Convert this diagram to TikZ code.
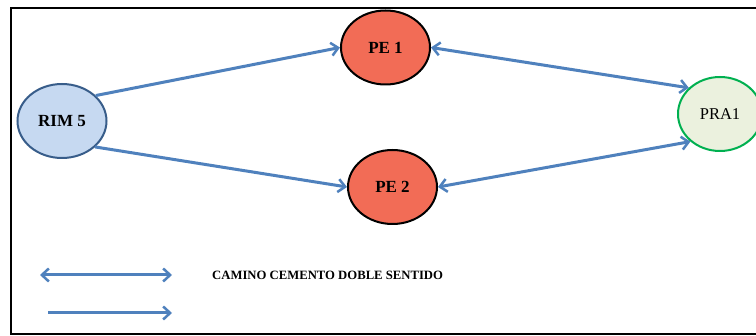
\documentclass[tikz,border=0pt]{standalone}
\usepackage{fontspec}
\setmainfont{Liberation Serif}
\usetikzlibrary{shapes.geometric,arrows.meta}
\definecolor{arrowblue}{RGB}{79,129,189}
\definecolor{rimfill}{RGB}{198,217,241}
\definecolor{rimdraw}{RGB}{56,93,138}
\definecolor{pefill}{RGB}{242,108,86}
\definecolor{prafill}{RGB}{235,241,222}
\definecolor{pradraw}{RGB}{0,176,80}
\tikzset{
  site/.style={ellipse, minimum width=89pt, minimum height=74pt, line width=2pt, inner sep=0pt, font=\bfseries\fontsize{17}{19}\selectfont},
  road/.style={draw=arrowblue, line width=3pt, -{Straight Barb[length=7pt,width=13pt,line width=2.5pt]}},
  road2/.style={draw=arrowblue, line width=3pt, {Straight Barb[length=7pt,width=13pt,line width=2.5pt]}-{Straight Barb[length=7pt,width=13pt,line width=2.5pt]}},
}
\begin{document}
\begin{tikzpicture}[x=1pt,y=-1pt]
\useasboundingbox (0,0) rectangle (756,336);
\fill[white] (0,0) rectangle (756,336);
\draw[line width=2pt] (756,8.5) -- (10.5,8.5) -- (10.5,334) -- (756,334);
\node[site, fill=rimfill, draw=rimdraw] (rim) at (62,121) {RIM 5};
\node[site, fill=pefill, draw=black] (pe1) at (385.5,47.5) {PE 1};
\node[site, fill=pefill, draw=black] (pe2) at (392.5,187) {PE 2};
\node[site, fill=prafill, draw=pradraw, minimum width=84pt, font=\fontsize{16.5}{18}\selectfont] (pra) at (720,114) {PRA1};
\draw[road] (rim.37) -- (pe1.west);
\draw[road] (rim.-38) -- (pe2.west);
\draw[road2] (pe1.east) -- (pra.140);
\draw[road2] (pe2.east) -- (pra.223);
\coordinate (l1a) at (40,275);
\coordinate (l1b) at (172,275);
\coordinate (l2a) at (48,313);
\coordinate (l2b) at (172,313);
\draw[road2] (l1a) -- (l1b);
\draw[road] (l2a) -- (l2b);
\node[anchor=west, inner sep=0pt, font=\bfseries\fontsize{12.7}{14}\selectfont] (leg) at (212,275) {CAMINO CEMENTO DOBLE SENTIDO};
\end{tikzpicture}
\end{document}
